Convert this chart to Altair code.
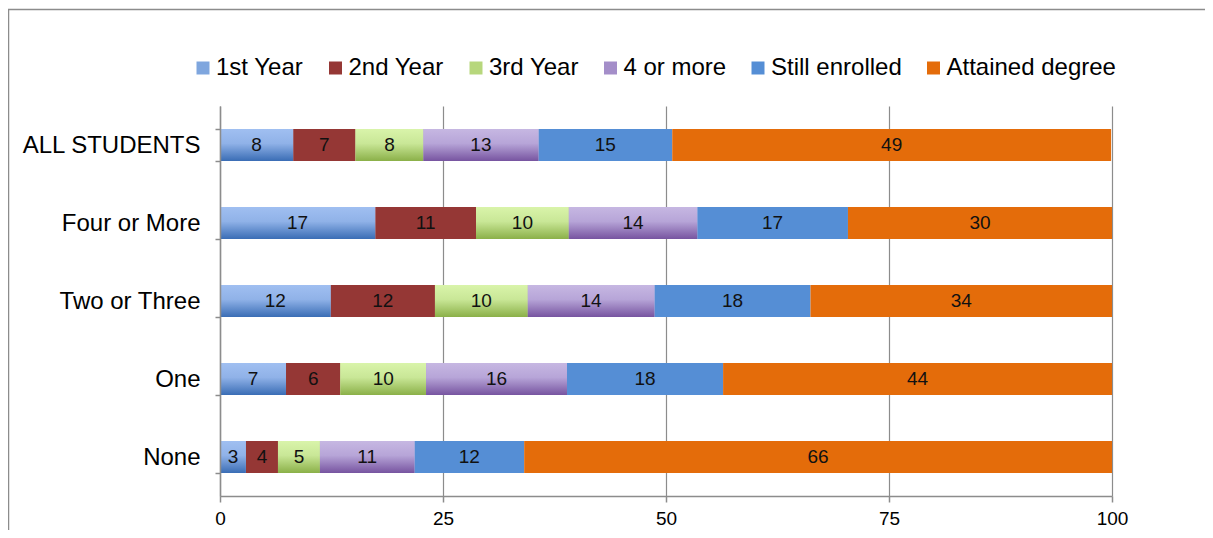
import altair as alt
import pandas as pd

categories = ["ALL STUDENTS", "Four or More", "Two or Three", "One", "None"]
series = ["1st Year", "2nd Year", "3rd Year", "4 or more", "Still enrolled", "Attained degree"]
first_year = [8.2, 17.4, 12.4, 7.4, 2.9]
second_year = [7.0, 11.3, 11.7, 6.1, 3.6]
third_year = [7.6, 10.4, 10.4, 9.6, 4.7]
four_or_more = [12.9, 14.4, 14.2, 15.8, 10.6]
still_enrolled = [15.0, 16.9, 17.5, 17.5, 12.3]
attained_degree = [49.2, 29.6, 33.8, 43.6, 65.9]
x_ticks = [0, 25, 50, 75, 100]

solid_colors = ["#7fa6de", "#953735", "#b7d77c", "#a48ec9", "#558ed5", "#e46c0a"]

columns = [first_year, second_year, third_year, four_or_more, still_enrolled, attained_degree]
rows = []
for ci, cat in enumerate(categories):
    for si, s in enumerate(series):
        rows.append({"category": cat, "series": s, "order": si, "value": columns[si][ci]})
df = pd.DataFrame(rows)

GRAY = "#8c8c8c"
SANS = "Liberation Sans, Arial, sans-serif"
NARROW = "Liberation Sans Narrow, Arial Narrow, Liberation Sans, Arial, sans-serif"


def grad(top, mid, bottom):
    return alt.LinearGradient(
        gradient="linear", x1=0, x2=0, y1=0, y2=1,
        stops=[alt.GradientStop(color=top, offset=0),
               alt.GradientStop(color=mid, offset=0.45),
               alt.GradientStop(color=bottom, offset=1)],
    )


gradients = {
    "1st Year": grad("#a0bff1", "#90b2e8", "#3a6db5"),
    "3rd Year": grad("#d9f4aa", "#c9e797", "#8bb048"),
    "4 or more": grad("#c6b7e2", "#b7a5d8", "#7754a0"),
}

y_enc = alt.Y(
    "category:N", sort=categories,
    scale=alt.Scale(paddingInner=0.59, paddingOuter=0.295),
    axis=alt.Axis(title=None, tickBand="extent", grid=False, domainColor=GRAY, domainWidth=1.5,
                  tickColor=GRAY, tickWidth=1.5, tickSize=5, labelFont=SANS, labelFontSize=24,
                  labelColor="black", labelPadding=15, labelLimit=300, zindex=1),
)

base = alt.Chart(df).transform_stack(
    stack="value", groupby=["category"], as_=["x0", "x1"],
    sort=[alt.SortField(field="order", order="ascending")],
)

bars = base.mark_bar().encode(
    x=alt.X("x0:Q", scale=alt.Scale(domain=[0, 100]),
            axis=alt.Axis(title=None, values=x_ticks, grid=True, gridColor=GRAY, gridWidth=1.2,
                          domainColor=GRAY, domainWidth=1.5, tickColor=GRAY, tickWidth=1.5,
                          tickSize=6, labelFont=NARROW, labelFontSize=19, labelColor="black",
                          labelPadding=7, labelFlush=False)),
    x2="x1:Q",
    y=y_enc,
    color=alt.Color("series:N", scale=alt.Scale(domain=series, range=solid_colors),
                    legend=alt.Legend(orient="none", legendX=-29, legendY=-50, direction="horizontal",
                                      columns=6, title=None, symbolType="square", symbolSize=169,
                                      symbolStrokeWidth=0, labelFont=SANS, labelFontSize=24,
                                      labelColor="black", labelOffset=1, columnPadding=19.5,
                                      padding=0, labelLimit=300)),
)

grad_layers = []
for s, g in gradients.items():
    grad_layers.append(
        base.transform_filter(alt.datum.series == s).mark_bar(color=g).encode(
            x="x0:Q", x2="x1:Q", y=y_enc)
    )

labels = base.transform_calculate(mid="(datum.x0 + datum.x1) / 2").mark_text(
    font=NARROW, fontSize=19, color="#111111", baseline="middle"
).encode(
    x="mid:Q", y=y_enc, text=alt.Text("value:Q", format=".0f")
)

frame = alt.Chart(alt.Data(values=[{}])).mark_rect(
    fill="white", fillOpacity=0, stroke=GRAY, strokeWidth=1.5, clip=False
).encode(
    x=alt.value(-211.5), x2=alt.value(1200), y=alt.value(-96.5), y2=alt.value(700)
)

chart = alt.layer(frame, bars, *grad_layers, labels).properties(
    width=892, height=390,
    autosize=alt.AutoSizeParams(type="none"),
    padding={"left": 212, "top": 98, "right": 93, "bottom": 34},
).configure_view(stroke="transparent")

chart.save("out.html", embed_options={"renderer": "svg", "actions": False})
